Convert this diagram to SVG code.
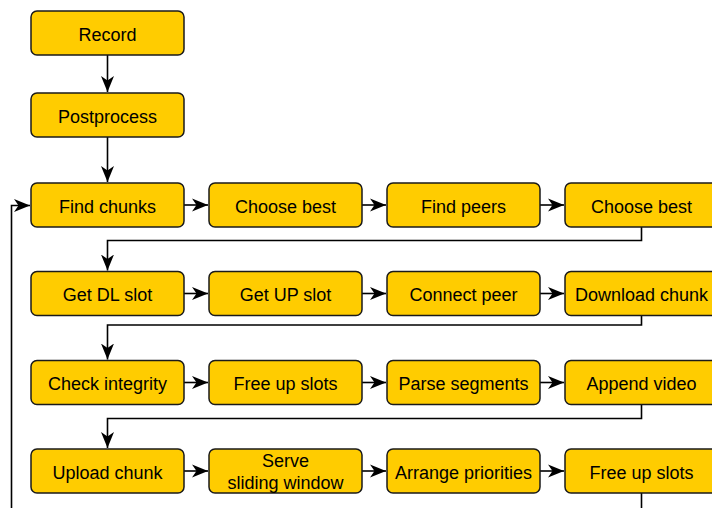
<svg xmlns="http://www.w3.org/2000/svg" width="712" height="508" viewBox="0 0 712 508">
  <style>
    .box { fill: #ffcc00; stroke: #1a1a1a; stroke-width: 1.5; }
    .lbl { font-family: "Liberation Sans", Arial, sans-serif; font-size: 18px; fill: #000; text-anchor: middle; }
    .edge { fill: none; stroke: #000; stroke-width: 1.6; }
    .edge-arrow { marker-end: url(#arrow); }
  </style>
  <defs>
    <marker id="arrow" markerUnits="userSpaceOnUse" markerWidth="17" markerHeight="14" viewBox="0 0 17 14" refX="16" refY="7" orient="auto">
      <path d="M0,0.5 L16,7 L0,13.5 L4.5,7 Z" fill="#000"/>
    </marker>
  </defs>
  <rect width="712" height="508" fill="#fff"/>

  <!-- connectors -->
  <g id="connectors">
    <path class="edge edge-arrow" d="M107.5,55 V92"/>
    <path class="edge edge-arrow" d="M107.5,137 V182"/>
    <!-- row 1 -->
    <path class="edge edge-arrow" d="M184,205 H208"/>
    <path class="edge edge-arrow" d="M362,205 H386"/>
    <path class="edge edge-arrow" d="M540,205 H564"/>
    <path class="edge edge-arrow" d="M641.5,227 V240.5 H107.5 V270.5"/>
    <!-- row 2 -->
    <path class="edge edge-arrow" d="M184,293.5 H208"/>
    <path class="edge edge-arrow" d="M362,293.5 H386"/>
    <path class="edge edge-arrow" d="M540,293.5 H564"/>
    <path class="edge edge-arrow" d="M641.5,315.5 V325 H107.5 V359.5"/>
    <!-- row 3 -->
    <path class="edge edge-arrow" d="M184,382.5 H208"/>
    <path class="edge edge-arrow" d="M362,382.5 H386"/>
    <path class="edge edge-arrow" d="M540,382.5 H564"/>
    <path class="edge edge-arrow" d="M641.5,404.5 V418.5 H107.5 V448"/>
    <!-- row 4 -->
    <path class="edge edge-arrow" d="M184,471 H208"/>
    <path class="edge edge-arrow" d="M362,471 H386"/>
    <path class="edge edge-arrow" d="M540,471 H564"/>
    <!-- loop back to Find chunks -->
    <path class="edge" d="M641.5,493 V512"/>
    <path class="edge edge-arrow" d="M11.5,512 V205.5 H30"/>
  </g>

  <g id="record"><rect class="box" x="31" y="11" width="153" height="44" rx="6"/><text class="lbl" x="107.5" y="40.7">Record</text></g>
  <g id="postprocess"><rect class="box" x="31" y="93" width="153" height="44" rx="6"/><text class="lbl" x="107.5" y="122.7">Postprocess</text></g>

  <g id="find-chunks"><rect class="box" x="31" y="183" width="153" height="44" rx="6"/><text class="lbl" x="107.5" y="212.7">Find chunks</text></g>
  <g id="choose-best-1"><rect class="box" x="209" y="183" width="153" height="44" rx="6"/><text class="lbl" x="285.5" y="212.7">Choose best</text></g>
  <g id="find-peers"><rect class="box" x="387" y="183" width="153" height="44" rx="6"/><text class="lbl" x="463.5" y="212.7">Find peers</text></g>
  <g id="choose-best-2"><rect class="box" x="565" y="183" width="153" height="44" rx="6"/><text class="lbl" x="641.5" y="212.7">Choose best</text></g>

  <g id="get-dl-slot"><rect class="box" x="31" y="271.5" width="153" height="44" rx="6"/><text class="lbl" x="107.5" y="301.2">Get DL slot</text></g>
  <g id="get-up-slot"><rect class="box" x="209" y="271.5" width="153" height="44" rx="6"/><text class="lbl" x="285.5" y="301.2">Get UP slot</text></g>
  <g id="connect-peer"><rect class="box" x="387" y="271.5" width="153" height="44" rx="6"/><text class="lbl" x="463.5" y="301.2">Connect peer</text></g>
  <g id="download-chunk"><rect class="box" x="565" y="271.5" width="153" height="44" rx="6"/><text class="lbl" x="641.5" y="301.2">Download chunk</text></g>

  <g id="check-integrity"><rect class="box" x="31" y="360.5" width="153" height="44" rx="6"/><text class="lbl" x="107.5" y="390.2">Check integrity</text></g>
  <g id="free-up-slots-1"><rect class="box" x="209" y="360.5" width="153" height="44" rx="6"/><text class="lbl" x="285.5" y="390.2">Free up slots</text></g>
  <g id="parse-segments"><rect class="box" x="387" y="360.5" width="153" height="44" rx="6"/><text class="lbl" x="463.5" y="390.2">Parse segments</text></g>
  <g id="append-video"><rect class="box" x="565" y="360.5" width="153" height="44" rx="6"/><text class="lbl" x="641.5" y="390.2">Append video</text></g>

  <g id="upload-chunk"><rect class="box" x="31" y="449" width="153" height="44" rx="6"/><text class="lbl" x="107.5" y="478.7">Upload chunk</text></g>
  <g id="serve-sliding-window"><rect class="box" x="209" y="449" width="153" height="44" rx="6"/><text class="lbl" x="285.5" y="467">Serve</text><text class="lbl" x="285.5" y="489">sliding window</text></g>
  <g id="arrange-priorities"><rect class="box" x="387" y="449" width="153" height="44" rx="6"/><text class="lbl" x="463.5" y="478.7">Arrange priorities</text></g>
  <g id="free-up-slots-2"><rect class="box" x="565" y="449" width="153" height="44" rx="6"/><text class="lbl" x="641.5" y="478.7">Free up slots</text></g>
</svg>
